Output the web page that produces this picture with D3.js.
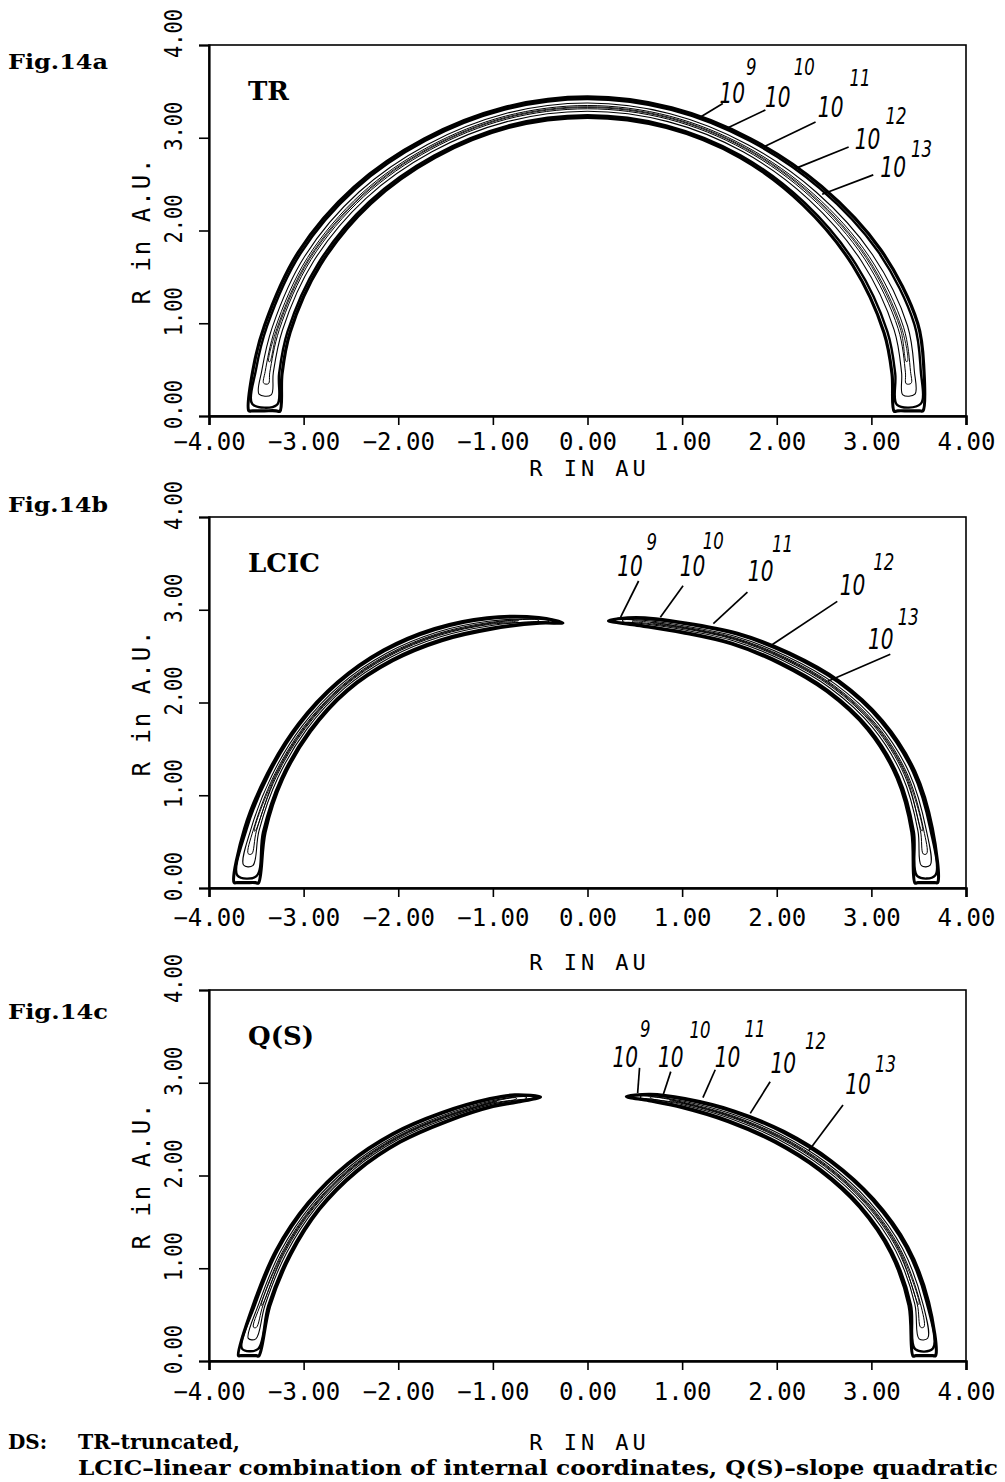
<!DOCTYPE html>
<html><head><meta charset="utf-8">
<script src="https://cdn.jsdelivr.net/npm/d3@7"></script>
<style>
body{margin:0;background:#fff;}
svg{display:block;}
</style></head><body>
<svg id="fig" width="1005" height="1482"></svg>
<script>
// ---- axis ticks ----
const xTicks = [-4, -3, -2, -1, 0, 1, 2, 3, 4];
const yTicks = [0, 1, 2, 3, 4];

// ---- contour levels, outermost first ----
const levelExp = ["9", "10", "11", "12", "13"];
// relative position of each level inside the 10^9 band (0 = on its edge)
const levelInset = [0, 0.1, 0.3, 0.42, 0.48];
// how many degrees each level stops short of the arc ends
const levelTrim = [0, 1.2, 3, 5, 9];

// ---- panel names ----
const figTags = ["Fig.14a", "Fig.14b", "Fig.14c"];
const panelNames = ["TR", "LCIC", "Q(S)"];

// ---- 10^9 contour edges: polar angle (deg) and radius (AU) ----
// TR: one continuous arch
const trAngle = [0, 8, 16, 30, 45, 60, 75, 90, 105, 120, 135, 150, 164, 172, 180];
const trOuter = [3.54, 3.59, 3.63, 3.58, 3.50, 3.45, 3.44, 3.44, 3.44, 3.45, 3.49, 3.53, 3.55, 3.57, 3.58];
const trInner = [3.24, 3.25, 3.26, 3.24, 3.22, 3.22, 3.22, 3.22, 3.22, 3.22, 3.24, 3.26, 3.27, 3.26, 3.25];

// LCIC: split into two arcs with a gap at the top
const lcicRightAngle = [0, 10, 20, 30, 40, 50, 60, 70, 80, 85.6];
const lcicRightOuter = [3.70, 3.70, 3.68, 3.60, 3.47, 3.31, 3.17, 3.04, 2.96, 2.89];
const lcicRightInner = [3.46, 3.48, 3.48, 3.42, 3.30, 3.16, 3.04, 2.93, 2.88, 2.89];
const lcicLeftAngle = [95.2, 100, 110, 120, 130, 140, 150, 160, 170, 180];
const lcicLeftOuter = [2.87, 2.96, 3.10, 3.23, 3.35, 3.45, 3.53, 3.60, 3.68, 3.74];
const lcicLeftInner = [2.87, 2.90, 2.97, 3.08, 3.20, 3.31, 3.38, 3.43, 3.46, 3.48];

// Q(S): two arcs, wider gap
const qsRightAngle = [0, 10, 20, 30, 40, 50, 60, 70, 77, 81.8];
const qsRightOuter = [3.68, 3.66, 3.60, 3.49, 3.36, 3.23, 3.11, 3.01, 2.95, 2.88];
const qsRightInner = [3.44, 3.45, 3.41, 3.32, 3.20, 3.08, 2.98, 2.91, 2.88, 2.88];
const qsLeftAngle = [99.9, 105, 110, 120, 130, 140, 150, 160, 170, 180];
const qsLeftOuter = [2.89, 2.97, 3.01, 3.09, 3.20, 3.31, 3.41, 3.50, 3.58, 3.70];
const qsLeftInner = [2.89, 2.89, 2.92, 2.98, 3.08, 3.18, 3.27, 3.34, 3.41, 3.48];

// ---- level annotations: text anchor, exponent anchor, leader line (AU) ----
const trNotes = [
  {t: [1.53, 3.48], s: [1.73, 3.76], l: [[1.43, 3.37], [1.19, 3.22]]},
  {t: [2.01, 3.44], s: [2.29, 3.76], l: [[1.88, 3.30], [1.49, 3.11]]},
  {t: [2.57, 3.33], s: [2.88, 3.64], l: [[2.41, 3.17], [1.86, 2.90]]},
  {t: [2.96, 2.98], s: [3.26, 3.24], l: [[2.76, 2.90], [2.20, 2.67]]},
  {t: [3.23, 2.68], s: [3.53, 2.88], l: [[3.02, 2.60], [2.48, 2.39]]}
];
const lcicNotes = [
  {t: [0.45, 3.47], s: [0.68, 3.73], l: [[0.54, 3.31], [0.35, 2.92]]},
  {t: [1.11, 3.47], s: [1.33, 3.74], l: [[1.01, 3.26], [0.77, 2.92]]},
  {t: [1.83, 3.41], s: [2.06, 3.71], l: [[1.69, 3.19], [1.33, 2.85]]},
  {t: [2.80, 3.26], s: [3.13, 3.51], l: [[2.64, 3.09], [1.93, 2.61]]},
  {t: [3.10, 2.68], s: [3.39, 2.92], l: [[3.20, 2.52], [2.54, 2.23]]}
];
const qsNotes = [
  {t: [0.40, 3.27], s: [0.61, 3.58], l: [[0.55, 3.16], [0.53, 2.89]]},
  {t: [0.88, 3.27], s: [1.19, 3.57], l: [[0.88, 3.12], [0.80, 2.87]]},
  {t: [1.48, 3.28], s: [1.77, 3.58], l: [[1.35, 3.14], [1.22, 2.84]]},
  {t: [2.07, 3.21], s: [2.41, 3.45], l: [[1.93, 3.01], [1.72, 2.67]]},
  {t: [2.86, 2.98], s: [3.15, 3.20], l: [[2.70, 2.76], [2.34, 2.27]]}
];

const captionLines = [
  ["DS:", "TR\u2013truncated,"],
  ["", "LCIC\u2013linear combination of internal coordinates, Q(S)\u2013slope quadratic"]
];

// ---- assemble panels ----
const panels = [
  {segs: [{angle: trAngle, outer: trOuter, inner: trInner}], notes: trNotes},
  {segs: [{angle: lcicRightAngle, outer: lcicRightOuter, inner: lcicRightInner},
          {angle: lcicLeftAngle, outer: lcicLeftOuter, inner: lcicLeftInner}], notes: lcicNotes},
  {segs: [{angle: qsRightAngle, outer: qsRightOuter, inner: qsRightInner},
          {angle: qsLeftAngle, outer: qsLeftOuter, inner: qsLeftInner}], notes: qsNotes}
];

// ---- layout ----
const plotL = 209, plotR = 966;
const tops = [45, 517, 990];
const tagY = [69, 512, 1019];
const tickDy = [26, 30, 31];     // tick-label centre below the axis
const titleDy = [52, 74, 81];    // axis-title centre below the axis
const plotH = 371;
const levelStroke = [3.2, 2.4, 1.1, 1.0, 0.9];
const monoFont = "'DejaVu Sans Mono', monospace";
const serifBold = "'DejaVu Serif', serif";
const handFont = "'DejaVu Sans', sans-serif";

const svg = d3.select("#fig");
svg.append("rect").attr("width", 1005).attr("height", 1482).attr("fill", "#fff");

const x = d3.scaleLinear().domain([-4, 4]).range([plotL, plotR]);
const rad = Math.PI / 180;
const polar = (r, a) => [r * Math.cos(a * rad), r * Math.sin(a * rad)];

// closed loop of one contour level around one arc
function contourLoop(seg, k) {
  const rO = d3.scaleLinear().domain(seg.angle).range(seg.outer);
  const rI = d3.scaleLinear().domain(seg.angle).range(seg.inner);
  const a0 = seg.angle[0], a1 = seg.angle[seg.angle.length - 1];
  const foot0 = a0 === 0, foot1 = a1 === 180;
  const lift = 0.9; // the lowest contour sits just above the axis
  const lo = a0 + (foot0 ? lift : 0) + levelTrim[k];
  const hi = a1 - (foot1 ? lift : 0) - levelTrim[k];
  const angs = [lo, ...seg.angle.filter(a => a > lo + 0.5 && a < hi - 0.5), hi];
  const f = levelInset[k];
  const ro = a => rO(a) - f * (rO(a) - rI(a));
  const ri = a => rI(a) + f * (rO(a) - rI(a));
  const outer = angs.map(a => polar(ro(a), a));
  const inner = angs.map(a => polar(ri(a), a));
  // flat base where the outermost level meets the axis
  const base = (a) => {
    const p = polar(ro(a), a), q = polar(ri(a), a);
    return [0.12, 0.5, 0.88].map(t => [p[0] + (q[0] - p[0]) * t, p[1]]);
  };
  const pts = [];
  if (k === 0 && foot0) pts.push(...base(lo).reverse());
  pts.push(...outer);
  const endHi = inner[inner.length - 1], oHi = outer[outer.length - 1];
  const tipHi = Math.hypot(endHi[0] - oHi[0], endHi[1] - oHi[1]) < 1e-3;
  if (k === 0 && foot1) pts.push(...base(hi));
  const innerRev = inner.slice().reverse();
  innerRev.forEach((p, j) => {
    if (j === 0 && tipHi) return;
    if (j === innerRev.length - 1) {
      const o0 = outer[0];
      if (Math.hypot(p[0] - o0[0], p[1] - o0[1]) < 1e-3) return;
    }
    pts.push(p);
  });
  return pts;
}

panels.forEach((p, pi) => {
  const top = tops[pi], bottom = top + plotH;
  const y = d3.scaleLinear().domain([0, 4]).range([bottom, top]);
  const g = svg.append("g");

  // frame
  g.append("rect").attr("x", plotL).attr("y", top)
    .attr("width", plotR - plotL).attr("height", plotH)
    .attr("fill", "none").attr("stroke", "#000").attr("stroke-width", 1.6);

  // x axis
  const xa = g.append("g").attr("transform", `translate(0,${bottom})`)
    .call(d3.axisBottom(x).tickValues(xTicks).tickSize(9));
  xa.select(".domain").attr("stroke-width", 2.6);
  xa.selectAll(".tick line").attr("stroke-width", 1.6);
  xa.selectAll(".tick text").remove();
  xa.selectAll(".tick").append("text")
    .attr("y", tickDy[pi]).attr("fill", "#000")
    .attr("text-anchor", "middle").attr("dominant-baseline", "central")
    .style("font-family", monoFont).style("font-size", "24px")
    .text(d => d3.format(".2f")(d));

  // y axis
  const ya = g.append("g").attr("transform", `translate(${plotL},0)`)
    .call(d3.axisLeft(y).tickValues(yTicks).tickSize(10));
  ya.select(".domain").attr("stroke-width", 2.2);
  ya.selectAll(".tick line").attr("stroke-width", 1.6);
  ya.selectAll(".tick text").remove();
  ya.selectAll(".tick").append("text")
    .attr("transform", "translate(-36,-12) rotate(-90) scale(0.85,1.05)")
    .attr("fill", "#000")
    .attr("text-anchor", "middle").attr("dominant-baseline", "central")
    .style("font-family", monoFont).style("font-size", "24px")
    .text(d => d3.format(".2f")(d));

  // axis titles
  g.append("text")
    .attr("transform", `translate(142,${(top + bottom) / 2}) rotate(-90)`)
    .attr("text-anchor", "middle").attr("dominant-baseline", "central")
    .style("font-family", monoFont).style("font-size", "24px")
    .style("letter-spacing", "2px")
    .text("R in A.U.");
  g.append("text")
    .attr("x", x(0) + 2).attr("y", bottom + titleDy[pi])
    .attr("text-anchor", "middle").attr("dominant-baseline", "central")
    .style("font-family", monoFont).style("font-size", "22px")
    .style("letter-spacing", "4px")
    .text("R IN AU");

  // figure tag and panel name
  g.append("text").attr("x", 8).attr("y", tagY[pi])
    .style("font-family", serifBold).style("font-weight", "bold").style("font-size", "21px")
    .attr("textLength", 100).attr("lengthAdjust", "spacingAndGlyphs")
    .text(figTags[pi]);
  g.append("text").attr("x", 248).attr("y", top + 55)
    .style("font-family", serifBold).style("font-weight", "bold").style("font-size", "26px")
    .text(panelNames[pi]);

  // contours
  const line = d3.line().x(d => x(d[0])).y(d => y(d[1])).curve(d3.curveCatmullRomClosed.alpha(0.5));
  p.segs.forEach(seg => {
    levelExp.forEach((e, k) => {
      g.append("path").attr("d", line(contourLoop(seg, k)))
        .attr("fill", "none").attr("stroke", "#000")
        .attr("stroke-width", levelStroke[k]).attr("stroke-linejoin", "round");
    });
  });

  // level annotations
  p.notes.forEach((n, k) => {
    g.append("line")
      .attr("x1", x(n.l[0][0])).attr("y1", y(n.l[0][1]))
      .attr("x2", x(n.l[1][0])).attr("y2", y(n.l[1][1]))
      .attr("stroke", "#000").attr("stroke-width", 1.7);
    g.append("text")
      .attr("transform", `translate(${x(n.t[0])},${y(n.t[1])}) scale(0.72,1)`)
      .attr("text-anchor", "middle").attr("dominant-baseline", "central")
      .style("font-family", handFont).style("font-style", "italic")
      .style("font-size", "28px")
      .text("10");
    g.append("text")
      .attr("transform", `translate(${x(n.s[0])},${y(n.s[1])}) scale(0.72,1)`)
      .attr("text-anchor", "middle").attr("dominant-baseline", "central")
      .style("font-family", handFont).style("font-style", "italic")
      .style("font-size", "23px")
      .text(levelExp[k]);
  });
});

// caption
captionLines.forEach((ln, i) => {
  const yy = 1449 + i * 26;
  if (ln[0]) svg.append("text").attr("x", 8).attr("y", yy)
    .style("font-family", serifBold).style("font-weight", "bold").style("font-size", "20px")
    .text(ln[0]);
  svg.append("text").attr("x", 78).attr("y", yy)
    .style("font-family", serifBold).style("font-weight", "bold").style("font-size", "20px")
    .attr("textLength", i === 0 ? 162 : 920).attr("lengthAdjust", "spacingAndGlyphs")
    .text(ln[1]);
});
</script>
</body></html>
